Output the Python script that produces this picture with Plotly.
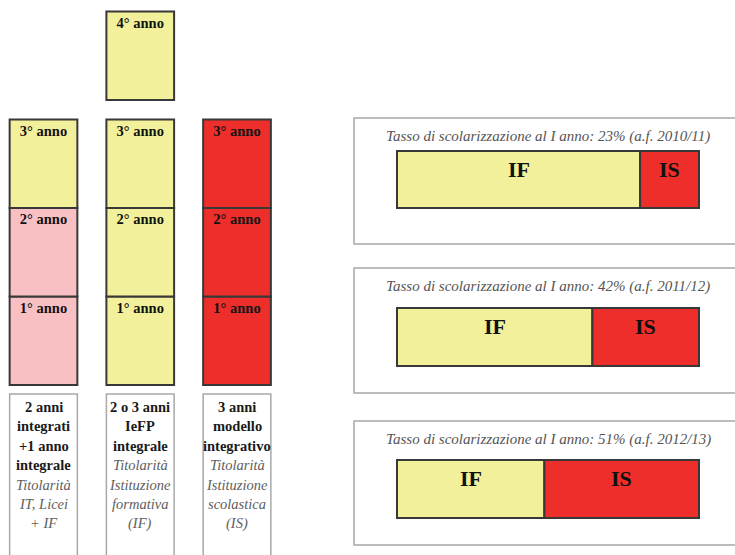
import plotly.graph_objects as go

W, H = 735, 555
SERIF = "Liberation Serif, Times New Roman, serif"

# ---------------- data ----------------
columns = ["2 anni integrati", "IeFP integrale", "Modello integrativo"]
year_labels = ["1° anno", "2° anno", "3° anno", "4° anno"]
# which institution / type each year box belongs to
col1_kinds = ["misto", "misto", "IF"]
col2_kinds = ["IF", "IF", "IF", "IF"]
col3_kinds = ["IS", "IS", "IS"]
col_kinds = [col1_kinds, col2_kinds, col3_kinds]

desc_bold = [["2 anni", "integrati", "+1 anno", "integrale"],
             ["2 o 3 anni", "IeFP", "integrale"],
             ["3 anni", "modello", "integrativo"]]
desc_italic = [["Titolarità", "IT, Licei", "+ IF"],
               ["Titolarità", "Istituzione", "formativa", "(IF)"],
               ["Titolarità", "Istituzione", "scolastica", "(IS)"]]

school_years = ["2010/11", "2011/12", "2012/13"]
rates = [23, 42, 51]
share_IF = [80.5, 64.7, 48.8]
share_IS = [19.5, 35.3, 51.2]

# ---------------- styles ----------------
kind_colors = {"IF": "#F2F09A", "misto": "#F9C0C4", "IS": "#EE2E2A"}
BORDER = "#383838"
GRAY_BOX = "#a8a8a8"

fig = go.Figure()

# ---------- left part: column diagram ----------
UNIT = 88.5          # px per year box
BASE_PIX = 385       # pixel of bottom of 1st year
GAP4 = 0.22          # gap before the 4th year
x_spacing = 96.75
x_first = 43.5
left_dom = 294

for k, ylab in enumerate(year_labels):
    xs, cols = [], []
    for c, kinds in enumerate(col_kinds):
        if len(kinds) > k:
            xs.append(columns[c])
            cols.append(kind_colors[kinds[k]])
    if not xs:
        continue
    fig.add_trace(go.Bar(
        x=xs, y=[1] * len(xs), base=k + (GAP4 if k == 3 else 0),
        width=0.70, marker=dict(color=cols, line=dict(color=BORDER, width=2)),
        text=[f"<b>{ylab}</b>"] * len(xs), textposition="inside",
        insidetextanchor="end", textangle=0,
        textfont=dict(family=SERIF, size=14.5, color="#111"),
        xaxis="x", yaxis="y", showlegend=False, hoverinfo="skip"))

# description boxes and text
box_top_y = -(394 - BASE_PIX) / UNIT
for c in range(len(columns)):
    fig.add_shape(type="rect", xref="x", yref="y", x0=c - 0.35, x1=c + 0.35,
                  y0=box_top_y, y1=-3, line=dict(color=GRAY_BOX, width=1.5),
                  fillcolor="white", layer="below")
    lines = [(f"<b>{t}</b>", "#1a1a1a") for t in desc_bold[c]] + \
            [(f"<i>{t}</i>", "#5e5e5e") for t in desc_italic[c]]
    for i, (t, colr) in enumerate(lines):
        pix = 407 + 19.4 * i
        fig.add_annotation(xref="x", yref="y", x=c, y=(BASE_PIX - pix) / UNIT,
                           text=t, showarrow=False, xanchor="center", yanchor="middle",
                           font=dict(family=SERIF, size=14.5, color=colr))

# ---------- right part: three panels ----------
panels = [dict(bt=118, bb=244, rt=151, rb=208),
          dict(bt=268, bb=393, rt=308, rb=366),
          dict(bt=421, bb=545, rt=460, rb=518)]
bar_l, bar_r, dom_l = 397, 699, 354
pxu = (bar_r - bar_l) / 100.0
xr = [(dom_l - bar_l) / pxu, (W - bar_l) / pxu]

layout_axes = {}
for i, p in enumerate(panels):
    n = i + 2
    xa, ya = f"x{n}", f"y{n}"
    h = p["rb"] - p["rt"]
    cen = (p["rb"] + p["rt"]) / 2
    yr = [-(p["bb"] - cen) / h, (cen - p["bt"]) / h]
    layout_axes[f"xaxis{n}"] = dict(domain=[dom_l / W, 1], range=xr, visible=False,
                                    anchor=ya, fixedrange=True)
    layout_axes[f"yaxis{n}"] = dict(domain=[1 - p["bb"] / H, 1 - p["bt"] / H], range=yr,
                                    visible=False, anchor=xa, fixedrange=True)
    fig.add_trace(go.Bar(y=[0], x=[share_IF[i]], base=0, orientation="h", width=1,
                         marker=dict(color=kind_colors["IF"], line=dict(color=BORDER, width=2)),
                         xaxis=xa, yaxis=ya, showlegend=False, hoverinfo="skip"))
    fig.add_trace(go.Bar(y=[0], x=[share_IS[i]], base=share_IF[i], orientation="h", width=1,
                         marker=dict(color=kind_colors["IS"], line=dict(color=BORDER, width=2)),
                         xaxis=xa, yaxis=ya, showlegend=False, hoverinfo="skip"))
    fig.add_shape(type="rect", xref=f"{xa} domain", yref=f"{ya} domain",
                  x0=0, x1=1.05, y0=0, y1=1, line=dict(color=GRAY_BOX, width=1.5),
                  layer="below")
    fig.add_annotation(xref=xa, yref=f"{ya} domain", x=50, y=1, yshift=-18,
                       text=f"<i>Tasso di scolarizzazione al I anno: {rates[i]}% (a.f. {school_years[i]})</i>",
                       showarrow=False, xanchor="center", yanchor="middle",
                       font=dict(family=SERIF, size=15, color="#555"))
    for lab, xc in (("IF", share_IF[i] / 2), ("IS", share_IF[i] + share_IS[i] / 2)):
        fig.add_annotation(xref=xa, yref=ya, x=xc, y=0.5, yshift=-18,
                           text=f"<b>{lab}</b>", showarrow=False,
                           xanchor="center", yanchor="middle",
                           font=dict(family=SERIF, size=22, color="#111"))

fig.update_layout(
    width=W, height=H, margin=dict(l=0, r=0, t=0, b=0),
    paper_bgcolor="white", plot_bgcolor="rgba(0,0,0,0)",
    barmode="overlay", showlegend=False,
    font=dict(family=SERIF),
    xaxis=dict(domain=[0, left_dom / W], type="category", categoryorder="array",
               categoryarray=columns,
               range=[-x_first / x_spacing, (left_dom - x_first) / x_spacing],
               visible=False, fixedrange=True),
    yaxis=dict(domain=[0, 1], range=[-(H - BASE_PIX) / UNIT, BASE_PIX / UNIT],
               visible=False, fixedrange=True),
    **layout_axes,
)

fig.write_html("out.html", config={"displayModeBar": False},
               post_script="document.body.style.margin='0';")
